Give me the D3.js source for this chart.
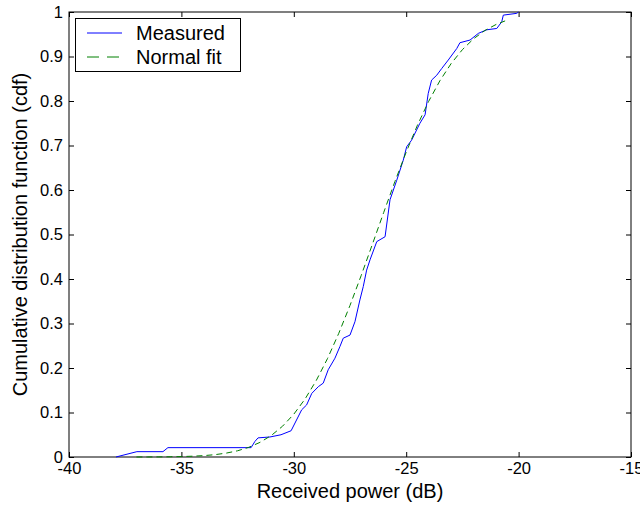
<!DOCTYPE html>
<html><head><meta charset="utf-8">
<script src="https://cdn.jsdelivr.net/npm/d3@7"></script>
<style>body{margin:0;background:#fff;} svg{display:block;font-family:"Liberation Sans",Arial,sans-serif;}</style>
</head><body>
<script>
const xTicks = [-40,-35,-30,-25,-20,-15];
const xTickLabels = ["-40","-35","-30","-25","-20","-15"];
const yTicks = [0,0.1,0.2,0.3,0.4,0.5,0.6,0.7,0.8,0.9,1];
const yTickLabels = ["0","0.1","0.2","0.3","0.4","0.5","0.6","0.7","0.8","0.9","1"];
const measuredX = [-37.91,-36.98,-35.82,-35.60,-31.90,-31.73,-31.59,-31.06,-30.57,-30.12,-29.65,-29.43,-29.20,-28.91,-28.69,-28.47,-28.17,-27.95,-27.80,-27.50,-27.28,-27.06,-26.91,-26.76,-26.61,-26.31,-25.94,-25.72,-25.42,-25.13,-24.98,-24.76,-24.39,-24.16,-24.02,-23.87,-23.64,-23.42,-23.13,-22.75,-22.61,-22.16,-21.79,-21.42,-20.97,-20.75,-20.68,-20.08,-20.01];
const measuredY = [0,0.012,0.012,0.021,0.021,0.035,0.043,0.045,0.05,0.059,0.106,0.117,0.143,0.158,0.166,0.196,0.222,0.248,0.267,0.274,0.304,0.353,0.383,0.42,0.443,0.484,0.495,0.578,0.622,0.667,0.697,0.712,0.75,0.769,0.817,0.847,0.858,0.873,0.892,0.918,0.931,0.937,0.952,0.96,0.963,0.978,0.993,0.997,1.0];
const fitX = [-37,-36.5,-36,-35.5,-35,-34.5,-34,-33.5,-33,-32.5,-32,-31.5,-31,-30.5,-30,-29.5,-29,-28.5,-28,-27.5,-27,-26.5,-26,-25.5,-25,-24.5,-24,-23.5,-23,-22.5,-22,-21.5,-21,-20.6];
const fitY = [0.00007,0.00014,0.00028,0.00054,0.0010,0.0018,0.0031,0.0053,0.0088,0.0140,0.0218,0.0330,0.0484,0.0692,0.0962,0.1303,0.1720,0.2213,0.2779,0.3406,0.4082,0.4786,0.5497,0.6193,0.6851,0.7457,0.7993,0.8456,0.8842,0.9154,0.9399,0.9584,0.9720,0.9800];
const seriesNames = ["Measured","Normal fit"];
const xLabel = "Received power (dB)";
const yLabel = "Cumulative distribution function (cdf)";

const W=640,H=508;
const L=69,R=631,T=12,B=457;
const svg=d3.select("body").append("svg").attr("width",W).attr("height",H);
const x=d3.scaleLinear().domain([-40,-15]).range([L,R]);
const y=d3.scaleLinear().domain([0,1]).range([B,T]);

const tk=5, tfs=16.5;
const styleAxis=g=>{g.select(".domain").remove();g.selectAll("text").attr("font-size",tfs).attr("fill","#000").attr("font-family","Liberation Sans, Arial");g.selectAll("line").attr("stroke","#000");};
svg.append("g").attr("transform",`translate(0,${B})`)
  .call(d3.axisBottom(x).tickValues(xTicks).tickSize(-tk).tickPadding(5).tickFormat((d,i)=>xTickLabels[i]))
  .call(styleAxis);
svg.append("g").attr("transform",`translate(0,${T})`)
  .call(d3.axisTop(x).tickValues(xTicks).tickSize(-tk).tickFormat(""))
  .call(styleAxis);
svg.append("g").attr("transform",`translate(${L},0)`)
  .call(d3.axisLeft(y).tickValues(yTicks).tickSize(-tk).tickPadding(6).tickFormat((d,i)=>yTickLabels[i]))
  .call(styleAxis);
svg.append("g").attr("transform",`translate(${R},0)`)
  .call(d3.axisRight(y).tickValues(yTicks).tickSize(-tk).tickFormat(""))
  .call(styleAxis);
svg.append("rect").attr("x",L).attr("y",T).attr("width",R-L).attr("height",B-T)
  .attr("fill","none").attr("stroke","#000").attr("stroke-width",1);

const line=d3.line().x(d=>x(d[0])).y(d=>y(d[1]));
svg.append("path").datum(measuredX.map((v,i)=>[v,measuredY[i]])).attr("d",line)
  .attr("fill","none").attr("stroke","#0000ff").attr("stroke-width",1);
svg.append("path").datum(fitX.map((v,i)=>[v,fitY[i]])).attr("d",line)
  .attr("fill","none").attr("stroke","#008000").attr("stroke-width",1).attr("stroke-dasharray","6,4");

const lg=svg.append("g");
lg.append("rect").attr("x",75.5).attr("y",18.5).attr("width",165).attr("height",53).attr("fill","#fff").attr("stroke","#000");
lg.append("line").attr("x1",87).attr("x2",122).attr("y1",33).attr("y2",33).attr("stroke","#0000ff");
lg.append("line").attr("x1",87).attr("x2",122).attr("y1",57).attr("y2",57).attr("stroke","#008000").attr("stroke-dasharray","12,8");
lg.append("text").attr("x",136).attr("y",40).attr("font-size",20).text(seriesNames[0]);
lg.append("text").attr("x",136).attr("y",64).attr("font-size",20).text(seriesNames[1]);

svg.append("text").attr("x",(L+R)/2).attr("y",498).attr("text-anchor","middle").attr("font-size",20).text(xLabel);
svg.append("text").attr("transform",`translate(27,${(T+B)/2}) rotate(-90)`).attr("text-anchor","middle").attr("font-size",20).text(yLabel);
</script>
</body></html>
